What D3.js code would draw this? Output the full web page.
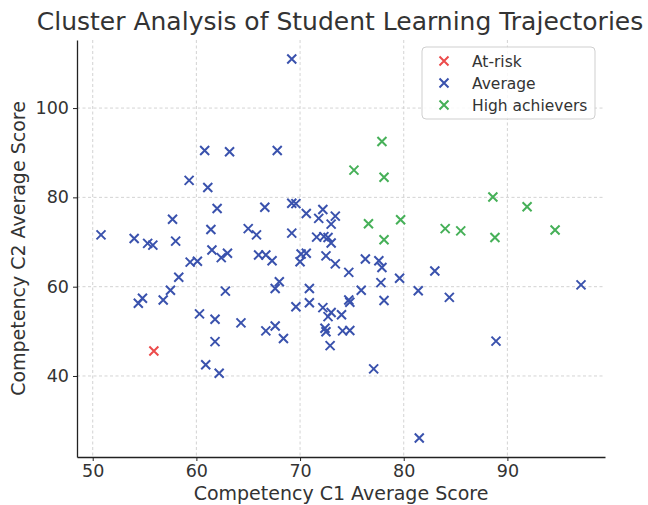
<!DOCTYPE html>
<html>
<head>
<meta charset="utf-8">
<script src="https://cdn.jsdelivr.net/npm/d3@7"></script>
<style>
  body { margin: 0; background: #fff; }
  svg { display: block; font-family: "DejaVu Sans", sans-serif; }
</style>
</head>
<body>
<div id="chart"></div>
<script>
// Cluster labels, in legend order
const clusters = ['At-risk', 'Average', 'High achievers'];
const clusterColors = ['#ec4b4b', '#3a52ad', '#46b058'];

// C1 / C2 scores per cluster
const atRiskC1 = [55.9];
const atRiskC2 = [45.6];

const averageC1 = [
  69.2, 60.8, 63.2, 67.8, 59.3, 61.1, 62.0, 66.6, 69.2, 69.6,
  70.6, 72.2, 71.8, 73.4, 73.0, 57.7, 50.8, 54.0, 55.3, 55.8,
  58.0, 61.4, 65.0, 65.8, 69.2, 71.6, 72.3, 72.7, 73.0, 61.5,
  62.4, 63.0, 59.4, 60.1, 58.3, 57.5, 56.8, 54.8, 54.4, 62.8,
  60.3, 61.8, 64.3, 61.8, 60.9, 62.2, 66.0, 66.7, 67.3, 68.0,
  67.6, 70.1, 70.6, 70.0, 72.5, 73.4, 74.7, 70.9, 70.9, 69.6,
  72.2, 73.0, 72.7, 74.0, 72.4, 72.5, 74.1, 74.8, 72.9, 66.7,
  67.6, 68.4, 76.3, 77.6, 77.9, 77.8, 75.9, 74.7, 74.8, 78.1,
  79.6, 81.4, 83.0, 84.4, 88.9, 97.1, 77.1, 81.5
];
const averageC2 = [
  111.0, 90.5, 90.2, 90.5, 83.8, 82.2, 77.5, 77.8, 78.7, 78.6,
  76.4, 77.3, 75.3, 75.8, 74.0, 75.1, 71.6, 70.8, 69.7, 69.3,
  70.2, 72.8, 73.0, 71.6, 72.0, 71.1, 71.2, 71.0, 69.8, 68.2,
  66.5, 67.5, 65.5, 65.7, 62.1, 59.2, 57.0, 57.4, 56.3, 59.0,
  53.9, 52.7, 51.9, 47.7, 42.5, 40.6, 67.1, 67.1, 65.8, 61.1,
  59.6, 67.3, 67.5, 65.6, 66.9, 65.1, 63.2, 59.6, 56.4, 55.5,
  55.3, 54.2, 53.3, 53.7, 50.7, 49.9, 50.1, 50.2, 46.8, 50.1,
  51.2, 48.4, 66.2, 65.8, 64.3, 60.9, 59.2, 57.0, 56.5, 56.9,
  61.9, 59.1, 63.5, 57.6, 47.8, 60.4, 41.6, 26.1
];

const highC1 = [77.9, 75.2, 78.1, 88.6, 91.9, 79.7, 76.6, 84.0, 85.5, 94.6, 88.8, 78.1];
const highC2 = [92.5, 86.1, 84.5, 80.1, 77.9, 75.0, 74.1, 73.0, 72.5, 72.7, 71.0, 70.5];

const xTicks = [50, 60, 70, 80, 90];
const yTicks = [40, 60, 80, 100];

const chartTitle = 'Cluster Analysis of Student Learning Trajectories';
const xLabel = 'Competency C1 Average Score';
const yLabel = 'Competency C2 Average Score';

// ---- layout ----
const width = 648, height = 505;
const margin = { left: 77, right: 43, top: 40, bottom: 48 };
const innerW = width - margin.left - margin.right;
const innerH = height - margin.top - margin.bottom;

const series = [
  { name: clusters[0], xs: atRiskC1, ys: atRiskC2, color: clusterColors[0] },
  { name: clusters[1], xs: averageC1, ys: averageC2, color: clusterColors[1] },
  { name: clusters[2], xs: highC1, ys: highC2, color: clusterColors[2] }
];

const allX = series.flatMap(s => s.xs);
const allY = series.flatMap(s => s.ys);

// matplotlib-like 5% padding
function padded(vals) {
  const [lo, hi] = d3.extent(vals);
  const pad = (hi - lo) * 0.05;
  return [lo - pad, hi + pad];
}

const x = d3.scaleLinear().domain(padded(allX)).range([0, innerW]);
const y = d3.scaleLinear().domain(padded(allY)).range([innerH, 0]);

const svg = d3.select('#chart')
  .append('svg')
  .attr('width', width)
  .attr('height', height);

const g = svg.append('g')
  .attr('transform', `translate(${margin.left},${margin.top})`);

// Grid
const gridColor = '#c8c8c8';
g.append('g')
  .selectAll('line')
  .data(xTicks)
  .join('line')
  .attr('x1', d => x(d)).attr('x2', d => x(d))
  .attr('y1', 0).attr('y2', innerH)
  .attr('stroke', gridColor)
  .attr('stroke-width', 0.8)
  .attr('stroke-dasharray', '3,2.5');

g.append('g')
  .selectAll('line')
  .data(yTicks)
  .join('line')
  .attr('x1', 0).attr('x2', innerW)
  .attr('y1', d => y(d)).attr('y2', d => y(d))
  .attr('stroke', gridColor)
  .attr('stroke-width', 0.8)
  .attr('stroke-dasharray', '3,2.5');

// Axes
const xAxis = g.append('g')
  .attr('transform', `translate(0,${innerH})`)
  .call(d3.axisBottom(x).tickValues(xTicks).tickSize(4).tickPadding(4).tickSizeOuter(0));

const yAxis = g.append('g')
  .call(d3.axisLeft(y).tickValues(yTicks).tickSize(4).tickPadding(4).tickSizeOuter(0));

[xAxis, yAxis].forEach(a => {
  a.select('.domain').attr('stroke', '#222').attr('stroke-width', 1.3);
  a.selectAll('.tick line').attr('stroke', '#222').attr('stroke-width', 1);
  a.selectAll('.tick text')
    .attr('fill', '#333')
    .style('font-family', '"DejaVu Sans", sans-serif')
    .style('font-size', '17.5px');
});

// Markers
const ms = 4.5;
function xPath(cx, cy) {
  return `M${cx - ms},${cy - ms}L${cx + ms},${cy + ms}M${cx - ms},${cy + ms}L${cx + ms},${cy - ms}`;
}

series.forEach(s => {
  g.append('g')
    .selectAll('path')
    .data(s.xs.map((v, i) => [v, s.ys[i]]))
    .join('path')
    .attr('d', d => xPath(x(d[0]), y(d[1])))
    .attr('stroke', s.color)
    .attr('stroke-width', 2)
    .attr('fill', 'none');
});

// Title and labels
svg.append('text')
  .attr('x', 340)
  .attr('y', 30)
  .attr('text-anchor', 'middle')
  .attr('fill', '#333')
  .style('font-size', '25px')
  .text(chartTitle);

svg.append('text')
  .attr('x', margin.left + innerW / 2)
  .attr('y', 500)
  .attr('text-anchor', 'middle')
  .attr('fill', '#333')
  .style('font-size', '19px')
  .text(xLabel);

svg.append('text')
  .attr('transform', `translate(25,${margin.top + innerH / 2}) rotate(-90)`)
  .attr('text-anchor', 'middle')
  .attr('fill', '#333')
  .style('font-size', '19px')
  .text(yLabel);

// Legend
const legend = svg.append('g').attr('transform', 'translate(422,47)');
legend.append('rect')
  .attr('width', 173)
  .attr('height', 72)
  .attr('rx', 4)
  .attr('fill', 'rgba(255,255,255,0.85)')
  .attr('stroke', '#cfcfcf')
  .attr('stroke-width', 1);

series.forEach((s, i) => {
  const ly = 14 + i * 22;
  legend.append('path')
    .attr('d', xPath(22, ly))
    .attr('stroke', s.color)
    .attr('stroke-width', 2)
    .attr('fill', 'none');
  legend.append('text')
    .attr('x', 50)
    .attr('y', ly)
    .attr('dy', '0.36em')
    .attr('fill', '#333')
    .style('font-size', '15.5px')
    .text(s.name);
});
</script>
</body>
</html>
